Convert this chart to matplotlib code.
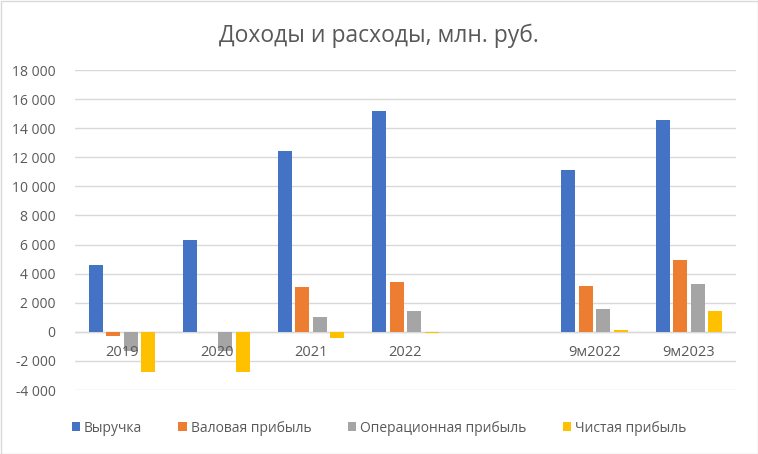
import matplotlib
matplotlib.use("Agg")
import matplotlib.pyplot as plt
import numpy as np
from matplotlib.patches import Rectangle

categories = ["2019", "2020", "2021", "2022", "", "9м2022", "9м2023"]
series_names = ["Выручка", "Валовая прибыль", "Операционная прибыль", "Чистая прибыль"]
revenue = [4600, 6300, 12430, 15180, np.nan, 11130, 14560]
gross = [-300, 0, 3090, 3430, np.nan, 3160, 4940]
operating = [-1300, -1300, 1030, 1440, np.nan, 1580, 3300]
net = [-2750, -2750, -400, -100, np.nan, 100, 1440]
colors = ["#4472C4", "#ED7D31", "#A5A5A5", "#FFC000"]
yticks = list(range(-4000, 18001, 2000))

plt.rcParams['font.family'] = ['Open Sans', 'DejaVu Sans']

fig = plt.figure(figsize=(7.58, 4.54), dpi=100)
ax = fig.add_axes([75/758, 1-390/454, 661/758, 320/454])

x = np.arange(len(categories))
step = 0.185
width = 0.148
for i, (vals, c, name) in enumerate(zip([revenue, gross, operating, net], colors, series_names)):
    ax.bar(x + (i - 1.5) * step, vals, width=width, color=c, label=name, zorder=3)

ax.set_xlim(-0.5, len(categories) - 0.5)
ax.set_ylim(-4000, 18000)
ax.set_yticks(yticks)
ax.set_yticklabels([f"{v:,}".replace(",", " ") for v in yticks], fontsize=10, color="#595959")
ax.tick_params(axis='y', length=0, pad=14)
ax.grid(axis='y', color="#D9D9D9", linewidth=1, zorder=0)
for s in ax.spines.values():
    s.set_visible(False)
ax.axhline(0, color="#D9D9D9", linewidth=1, zorder=1)
ax.set_xticks([])
for xi, lab in zip(x, categories):
    ax.text(xi, -1450, lab, ha='center', va='center', fontsize=10.5, color="#595959", zorder=4)

fig.text(0.5, 1-36/454, "Доходы и расходы, млн. руб.", ha='center', va='center', fontsize=16.5, color="#595959")

leg = fig.legend(loc='center', bbox_to_anchor=(0.5, 1-428/454), ncol=4, frameon=False,
                 fontsize=10, handlelength=0.6, handleheight=0.6, handletextpad=0.3,
                 columnspacing=2.6, labelcolor="#595959")

fig.patches.append(Rectangle((0.5/758, 0.5/454), 1-1/758, 1-1/454, transform=fig.transFigure,
                             fill=False, edgecolor="#D9D9D9", linewidth=1))

fig.savefig("out.png", dpi=100, facecolor="white")
